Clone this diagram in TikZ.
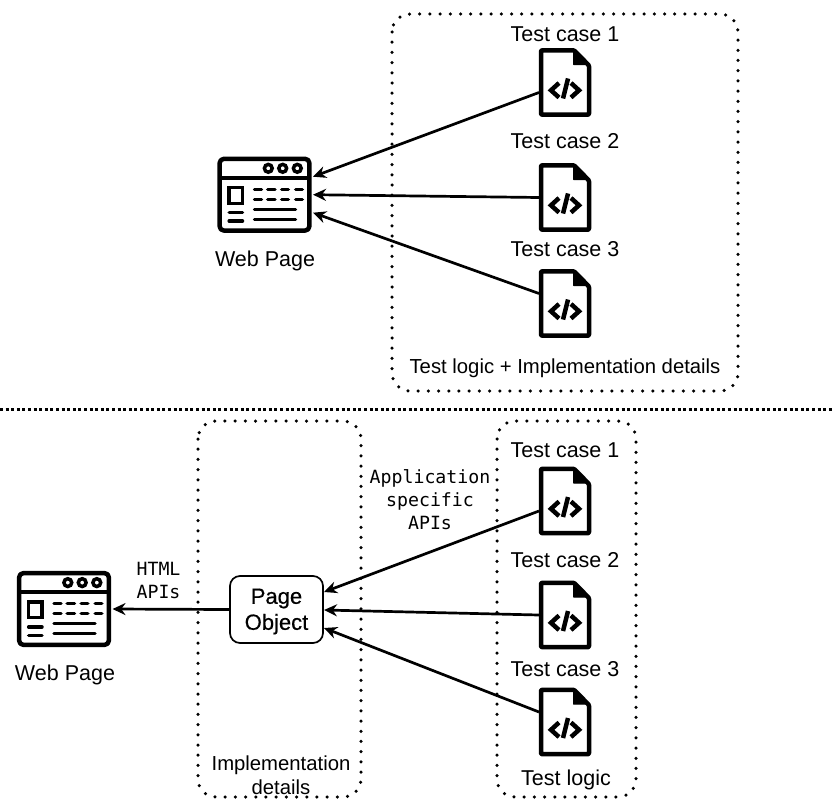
\documentclass[tikz,border=0pt]{standalone}
\usepackage{fontspec}
\setmainfont{Liberation Sans}
\setmonofont{DejaVu Sans Mono}
\newfontfamily\medfont[FakeBold=0.5]{Liberation Sans}
\usetikzlibrary{arrows.meta}
\tikzset{
  x=1pt,y=-1pt,
  icon/.style={line width=4.5pt,line join=round,line cap=round},
  thick line/.style={line width=3.5pt,line cap=round},
  dotbox/.style={line width=3.5pt,line cap=round,dash pattern=on 0pt off 10.2pt,rounded corners=18pt},
  sep line/.style={line width=3pt,dash pattern=on 3pt off 2.6pt},
  label/.style={font=\fontsize{21.5}{24}\selectfont,inner sep=0pt,align=center},
  small label/.style={font=\fontsize{20.3}{24}\selectfont,inner sep=0pt,align=center},
  mono/.style={font=\ttfamily\fontsize{18.2}{23}\selectfont,inner sep=0pt,align=center},
  conn/.style={line width=2.7pt,-{Stealth[length=13pt,width=12pt]}},
}
% #1 name, #2 x, #3 y centre
\newcommand{\docicon}[3]{
  \node[inner sep=0pt,minimum width=52pt,minimum height=69pt] (#1) at (#2,#3) {};
  \begin{scope}[shift={(#2,#3)}]
    \draw[icon,rounded corners=1pt] (-24,-32.2) -- (9,-32.2) -- (24,-17) -- (24,32.2) -- (-24,32.2) -- cycle;
    \fill[line join=round,line width=1pt,draw=black] (8.5,-32) -- (24,-18) -- (8.5,-18) -- cycle;
    \draw[line width=4.5pt,line cap=butt,line join=miter] (-6,0.5) -- (-14,7.8) -- (-6,15);
    \draw[line width=4.5pt,line cap=butt,line join=miter] (6,0.5) -- (14,7.8) -- (6,15);
    \draw[line width=4.5pt] (3,-4) -- (-2,16);
    \coordinate (#1-up) at (-26,10);
    \coordinate (#1-mid) at (-26,0);
    \coordinate (#1-low) at (-26,-10);
  \end{scope}
}
\newcommand{\webicon}[3]{
  \node[inner sep=0pt,minimum width=94pt,minimum height=76pt] (#1) at (#2,#3) {};
  \begin{scope}[shift={(#2,#3)}]
    \draw[icon,rounded corners=4pt] (-44.8,-35.8) rectangle (44.8,35.8);
    \draw[line width=4pt] (-44.8,-17) -- (44.8,-17);
    \foreach \cx in {3.8,18.2,32.8}{ \draw[line width=3.5pt] (\cx,-26.4) circle (3.9pt); }
    \draw[line width=3.5pt] (-35.5,-7) rectangle (-22,8.6);
    \foreach \yy in {-5.4,4.6}{
      \foreach \xa/\xb in {-10/-3,3.2/10.5,17.2/23.8,31.2/37.8}{ \draw[thick line] (\xa,\yy) -- (\xb,\yy); }
    }
    \draw[thick line] (-10,14.6) -- (31,14.6);
    \draw[thick line] (-10,24.6) -- (31,24.6);
    \draw[thick line] (-35.3,18) -- (-22,18);
    \draw[thick line] (-35.3,26.3) -- (-22,26.3);
    \coordinate (#1-a) at (48.5,-18);
    \coordinate (#1-b) at (48.5,0);
    \coordinate (#1-c) at (48.5,18);
  \end{scope}
}
\begin{document}
\begin{tikzpicture}
\useasboundingbox (0,0) rectangle (834,800);
% top
\draw[dotbox] (392,14) rectangle (738,391);
\draw[sep line] (0,409) -- (834,409);
\webicon{webt}{264.5}{194.7}
\node[label] (webtl) at (265,260.5) {Web Page};
\node[label] (t1l) at (565,34) {Test case 1};
\node[label] (t2l) at (565,141.5) {Test case 2};
\node[label] (t3l) at (565,249.5) {Test case 3};
\docicon{t1}{565}{82.5}
\docicon{t2}{565}{197.5}
\docicon{t3}{565}{303.5}
\node[small label] (tlab) at (565,368) {Test logic + Implementation details};
\draw[conn] (t1-up) -- (webt-a);
\draw[conn] (t2-mid) -- (webt-b);
\draw[conn] (t3-low) -- (webt-c);
% bottom
\draw[dotbox] (198,421) rectangle (361,797);
\draw[dotbox] (497,421) rectangle (636,797);
\webicon{webb}{64}{609}
\node[label] (webbl) at (65,674.5) {Web Page};
\node[draw,line width=1.7pt,rounded corners=10pt,minimum width=93pt,minimum height=67pt,inner sep=0pt,fill=white] (po) at (276.5,609.5) {};
\node[inner sep=0pt,align=center,font=\medfont\fontsize{22}{26}\selectfont] (pot) at (276.5,611.5) {Page\\Object};
\node[label] (b1l) at (565,450.5) {Test case 1};
\node[label] (b2l) at (565,560.5) {Test case 2};
\node[label] (b3l) at (565,669) {Test case 3};
\docicon{b1}{565}{501}
\docicon{b2}{565}{615}
\docicon{b3}{565}{722}
\node[small label] (il) at (281,775.5) {Implementation\\details};
\node[label] (ll) at (566,780) {Test logic};
\node[mono] (aa) at (430,500) {Application\\specific\\APIs};
\node[mono] (ha) at (158.5,580) {HTML\\APIs};
\coordinate (poa) at (324,592);
\coordinate (pob) at (324,610);
\coordinate (poc) at (324,628);
\draw[conn] (b1-up) -- (poa);
\draw[conn] (b2-mid) -- (pob);
\draw[conn] (b3-low) -- (poc);
\draw[conn] (po.west) -- (webb-b);
\end{tikzpicture}
\end{document}
